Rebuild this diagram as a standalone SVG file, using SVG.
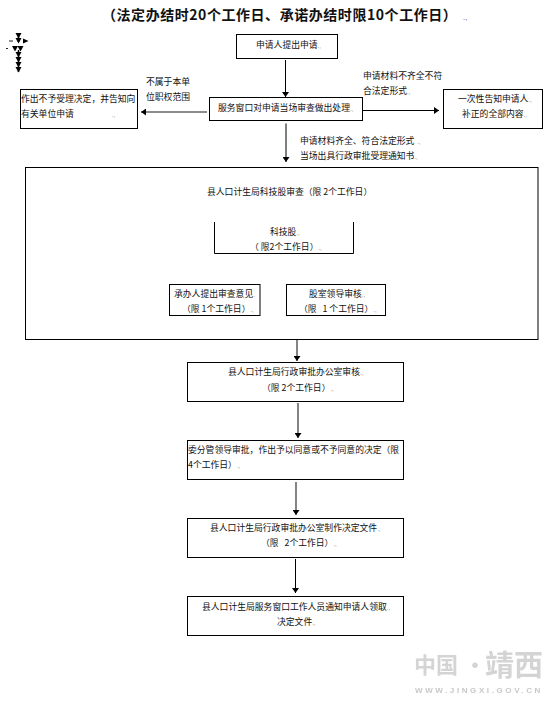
<svg xmlns="http://www.w3.org/2000/svg" width="559" height="707" viewBox="0 0 559 707">
<style>
text{font-family:"Noto Sans CJK SC","Liberation Sans",sans-serif;font-size:8.8px;fill:#111;white-space:pre}
.title{font-size:14px;font-weight:700;fill:#111;letter-spacing:.55px}
.m{font-size:6px;fill:#666;font-family:"Liberation Sans",sans-serif}
.b{fill:#fff;stroke:#000;stroke-width:1}
.o{fill:none;stroke:#000;stroke-width:1}
.c{fill:none;stroke:#000;stroke-width:1;marker-end:url(#a)}
.g{fill:none;stroke:#666;stroke-width:1.6;marker-end:url(#a)}
.wm{fill:#d4d4d4;font-size:22px;font-weight:700}
.wu{fill:#c8c8c8;font-size:8px;font-weight:700;font-family:"Liberation Sans",sans-serif;letter-spacing:2.6px}
</style>
<defs>
<marker id="a" markerUnits="userSpaceOnUse" markerWidth="6" markerHeight="7" refX="5" refY="3.5" orient="auto"><path d="M0 0L5 3.5L0 7Z" fill="#000"/></marker>
<path id="t" d="M-3 0H3L0 5.500Z" fill="#000"/>
<filter id="bl" x="-5%" y="-5%" width="110%" height="110%"><feGaussianBlur stdDeviation=".5"/></filter>
</defs>
<rect width="559" height="707" fill="#fff"/>
<text id="title" class="title" x="102" y="20">（法定办结时20个工作日、承诺办结时限10个工作日）<tspan class="m" dx="6">.,</tspan></text>
<g id="stray-marks">
<path d="M18.500 33V42M18.500 50V72" stroke="#000" stroke-width="1.500"/>
<use href="#t" x="18.500" y="33"/><use href="#t" x="18.500" y="38"/>
<path d="M23 38.500L28.500 41L23 43.500Z" fill="#000"/>
<use href="#t" x="15" y="46"/><use href="#t" x="20.500" y="46"/>
<use href="#t" x="18.500" y="52"/><use href="#t" x="18.500" y="57"/><use href="#t" x="18.500" y="62"/><use href="#t" x="18.500" y="67"/>
<path d="M9 41H13M6 48.500H8" stroke="#222" stroke-width="1"/>
</g>
<g id="connectors">
<path class="c" d="M285.500 60V97"/>
<path class="c" d="M286 123.500V162"/>
<path class="g" d="M207 112H141"/>
<path class="c" d="M362 110.500H439"/>
<path class="g" d="M297 340V361"/>
<path class="g" d="M298 403V438"/>
<path class="g" d="M296 482V515"/>
<path class="c" d="M295.500 559V593"/>
</g>
<g id="n-apply"><rect class="b" x="236.500" y="34.500" width="101" height="24"/><text x="256" y="47.500">申请人提出申请<tspan class="m">.,</tspan></text></g>
<g id="n-window"><rect class="b" x="209.500" y="97.500" width="153" height="23"/><text x="218" y="110.500">服务窗口对申请当场审查做出处理<tspan class="m">.,</tspan></text></g>
<g id="n-reject"><rect class="b" x="20.500" y="89.500" width="117" height="39"/><text x="21" y="102">作出不予受理决定，并告知向</text><text x="21" y="117">有关单位申请<tspan class="m" dx="38">.,</tspan></text></g>
<g id="n-notify"><rect class="b" x="443.500" y="89.500" width="99" height="39"/><text x="458" y="102">一次性告知申请人<tspan class="m">.,</tspan></text><text x="462" y="117">补正的全部内容<tspan class="m">.,</tspan></text></g>
<g id="l-out"><text x="146" y="85">不属于本单</text><text x="146" y="100">位职权范围</text></g>
<g id="l-incomplete"><text x="363" y="79">申请材料不齐全不符</text><text x="363" y="94">合法定形式<tspan class="m">.,</tspan></text></g>
<g id="l-complete"><text x="300" y="144">申请材料齐全、符合法定形式<tspan class="m" dx="3">.,</tspan></text><text x="300" y="159">当场出具行政审批受理通知书<tspan class="m">.,</tspan></text></g>
<g id="n-bureau"><rect class="o" x="25.500" y="167.500" width="512.500" height="172"/><text x="207" y="194.500">县人口计生局科技股审查（限 2个工作日）</text></g>
<g id="n-section"><path class="o" d="M214.500 222V253.500H353.500V222"/><text x="270" y="235">科技股<tspan class="m">.,</tspan></text><text x="250" y="250">（ 限2个工作日）<tspan class="m">.,</tspan></text></g>
<g id="n-opinion"><rect class="b" x="169.500" y="284.500" width="90.500" height="31"/><text x="174" y="297">承办人提出审查意见<tspan class="m">.</tspan></text><text x="182" y="312">（限 1个工作日）<tspan class="m">.,</tspan></text></g>
<g id="n-chief"><rect class="b" x="286.500" y="284.500" width="99" height="31"/><text x="309" y="297">股室领导审核<tspan class="m">.,</tspan></text><text x="299" y="312">（限   1 个工作日）<tspan class="m">.,</tspan></text></g>
<g id="n-office"><rect class="b" x="187.500" y="362.500" width="216" height="39"/><text x="228" y="375">县人口计生局行政审批办公室审核<tspan class="m">.,</tspan></text><text x="262" y="390.500">（限 2个工作日）<tspan class="m">.,</tspan></text></g>
<g id="n-leader"><rect class="b" x="187.500" y="440.500" width="216" height="39"/><text x="188" y="453">委分管领导审批，作出予以同意或不予同意的决定（限</text><text x="188" y="468">4个工作日）<tspan class="m">.,</tspan></text></g>
<g id="n-draft"><rect class="b" x="187.500" y="518.500" width="216" height="39"/><text x="210" y="531">县人口计生局行政审批办公室制作决定文件<tspan class="m">.,</tspan></text><text x="261" y="546">（限   2个工作日）<tspan class="m">.,</tspan></text></g>
<g id="n-collect"><rect class="b" x="187.500" y="596.500" width="216" height="39"/><text x="202" y="610">县人口计生局服务窗口工作人员通知申请人领取<tspan class="m">.,</tspan></text><text x="277" y="625">决定文件<tspan class="m">.,</tspan></text></g>
<g id="watermark" filter="url(#bl)"><text class="wm" x="414" y="673">中国</text><text class="wm" x="464" y="673">·</text><text class="wm" x="485" y="676" style="font-size:29px">靖西</text><text class="wu" x="415" y="693">WWW.JINGXI.GOV.CN</text></g>
</svg>
